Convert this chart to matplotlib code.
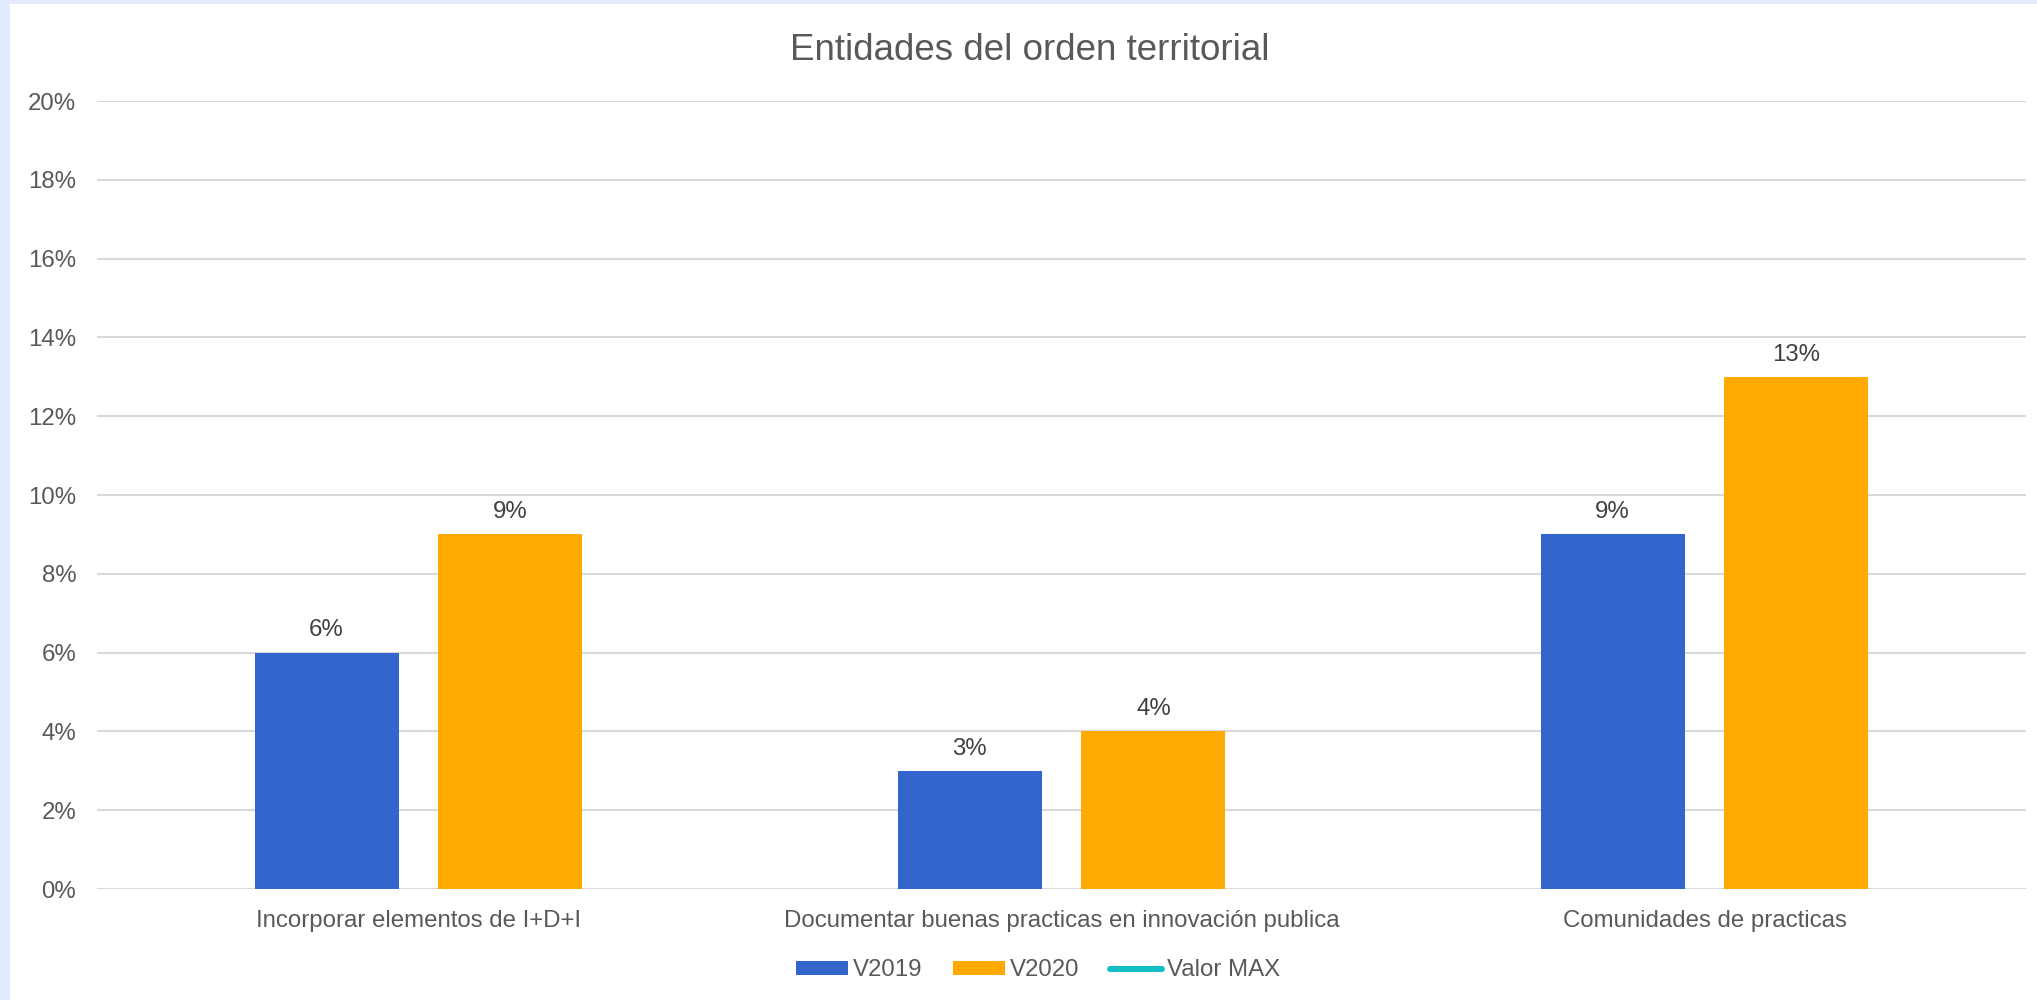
import matplotlib.pyplot as plt
from matplotlib.patches import Rectangle, Patch
from matplotlib.lines import Line2D
from matplotlib.ticker import PercentFormatter

plt.rcParams['font.family'] = ['Liberation Sans', 'DejaVu Sans']

# Survey results per category
categories = ['Incorporar elementos de I+D+I',
              'Documentar buenas practicas en innovación publica',
              'Comunidades de practicas']
v2019 = [0.06, 0.03, 0.09]
v2020 = [0.09, 0.04, 0.13]
yticks = [0, 0.02, 0.04, 0.06, 0.08, 0.10, 0.12, 0.14, 0.16, 0.18, 0.20]

blue = '#3366CC'
orange = '#FFAA00'
teal = '#13BDC5'
text_grey = '#595959'
fs = 17.3

fig = plt.figure(figsize=(20.37, 10), dpi=100)
fig.patch.set_facecolor('#E2EBFB')
# white card inside the light blue frame
fig.add_artist(Rectangle((10 / 2037, 0), 1, 1 - 4 / 1000, transform=fig.transFigure,
                         facecolor='white', edgecolor='none', zorder=0))

ax = fig.add_axes([97 / 2037, 0.111, (2026 - 97) / 2037, 0.788])
ax.set_facecolor('none')

x = list(range(len(categories)))
width = 0.224
offset = 0.143
b1 = ax.bar([i - offset for i in x], v2019, width, color=blue, zorder=3, label='V2019')
b2 = ax.bar([i + offset for i in x], v2020, width, color=orange, zorder=3, label='V2020')

for bars, vals in ((b1, v2019), (b2, v2020)):
    ax.bar_label(bars, labels=[f'{v * 100:.0f}%' for v in vals], padding=8,
                 fontsize=fs, color='#404040')

ax.set_xlim(-0.5, len(categories) - 0.5)
ax.set_ylim(0, 0.20)
ax.set_yticks(yticks)
ax.yaxis.set_major_formatter(PercentFormatter(1.0, decimals=0))
ax.set_xticks(x)
ax.set_xticklabels(categories)
ax.tick_params(axis='both', length=0, labelsize=fs, labelcolor=text_grey)
ax.tick_params(axis='y', pad=15)
ax.tick_params(axis='x', pad=15)
ax.grid(axis='y', color='#D9D9D9', linewidth=1.5, zorder=0)
for s in ax.spines.values():
    s.set_visible(False)

fig.text(0.5057, 0.949, 'Entidades del orden territorial', ha='center', va='center',
         fontsize=26.5, color=text_grey)

handles = [Patch(facecolor=blue, label='V2019'),
           Patch(facecolor=orange, label='V2020'),
           Line2D([0], [0], color=teal, linewidth=4.3, solid_capstyle='round', label='Valor MAX')]
fig.legend(handles=handles, loc='center', bbox_to_anchor=(0.5096, 0.0295), ncol=3,
           frameon=False, fontsize=fs, labelcolor=text_grey, handlelength=2.17,
           handleheight=0.54, handletextpad=0.21, columnspacing=1.25,
           borderpad=0, borderaxespad=0)

fig.savefig('out.png', dpi=100, facecolor=fig.get_facecolor())
